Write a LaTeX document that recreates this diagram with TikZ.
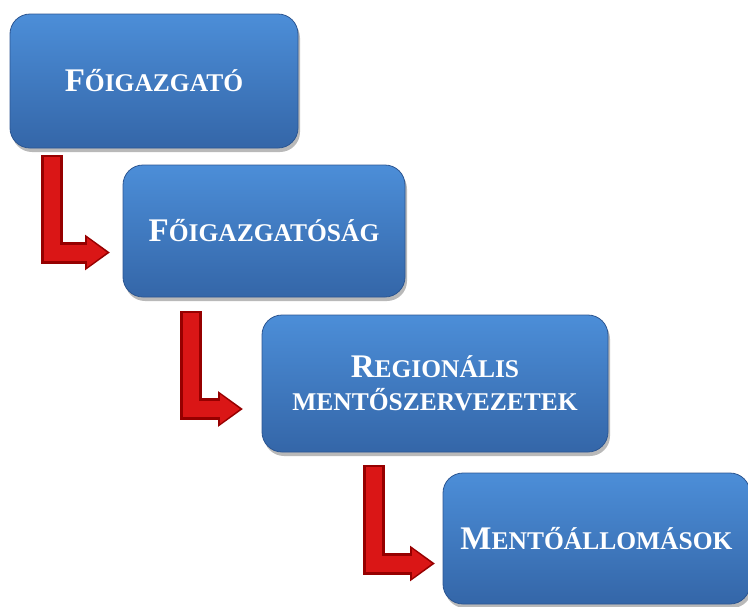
\documentclass[tikz,border=0pt]{standalone}
\usepackage{fontspec}
\setmainfont{Liberation Serif}
\usetikzlibrary{arrows.meta,shadows}

\definecolor{boxtop}{RGB}{76,142,216}
\definecolor{boxbot}{RGB}{52,102,168}
\definecolor{boxline}{RGB}{44,86,146}
\definecolor{arrdark}{RGB}{150,0,0}
\definecolor{arrlight}{RGB}{218,22,22}

% small caps by hand: big first letter, smaller rest
\newcommand{\kapit}[2]{{\fontsize{33}{36}\selectfont #1}{\fontsize{25.5}{30}\selectfont #2}}
\newcommand{\kis}[1]{{\fontsize{25.5}{30}\selectfont #1}}

\tikzset{
	lepcso/.style={draw=boxline, line width=0.8pt, rounded corners=20pt,
		top color=boxtop, bottom color=boxbot, text=white, font=\bfseries,
		align=center, inner sep=0pt,
		drop shadow={opacity=0.55, shadow xshift=2pt, shadow yshift=-4pt}},
	nyilalj/.style={draw=arrdark, line width=22pt, line join=miter,
		-{Triangle[length=25pt, width=34pt]}},
	nyilfeny/.style={draw=arrlight, line width=16pt, line join=miter,
		shorten <=2pt, shorten >=3pt, -{Triangle[length=20pt, width=28pt]}}
}

\begin{document}
\begin{tikzpicture}[x=1pt, y=-1pt]
	\useasboundingbox (0,0) rectangle (748,606);
	
	\node[lepcso, minimum width=288pt, minimum height=134pt] (b1) at (154,81) {\kapit{F}{ŐIGAZGATÓ}};
	\node[lepcso, minimum width=282pt, minimum height=132pt] (b2) at (264,231) {\kapit{F}{ŐIGAZGATÓSÁG}};
	\node[lepcso, minimum width=346pt, minimum height=137pt, font=\bfseries\fontsize{25.5}{33}\selectfont] (b3) at (435,383.5) {\kapit{R}{EGIONÁLIS}\\ \kis{MENTŐSZERVEZETEK}};
	\node[lepcso, minimum width=307pt, minimum height=131pt] (b4) at (596.5,538.5) {\kapit{M}{ENTŐÁLLOMÁSOK}};
	
	\coordinate (s1) at (51.5,155);
	\coordinate (t1) at (110,252.5);
	\coordinate (s2) at (190.5,311);
	\coordinate (t2) at (243,409);
	\coordinate (s3) at (373.5,465);
	\coordinate (t3) at (435,563.5);
	
	\foreach \i in {1,2,3}
	{
		\draw[nyilalj] (s\i) |- (t\i);
		\draw[nyilfeny] (s\i) |- (t\i);
	}

\end{tikzpicture}
\end{document}
